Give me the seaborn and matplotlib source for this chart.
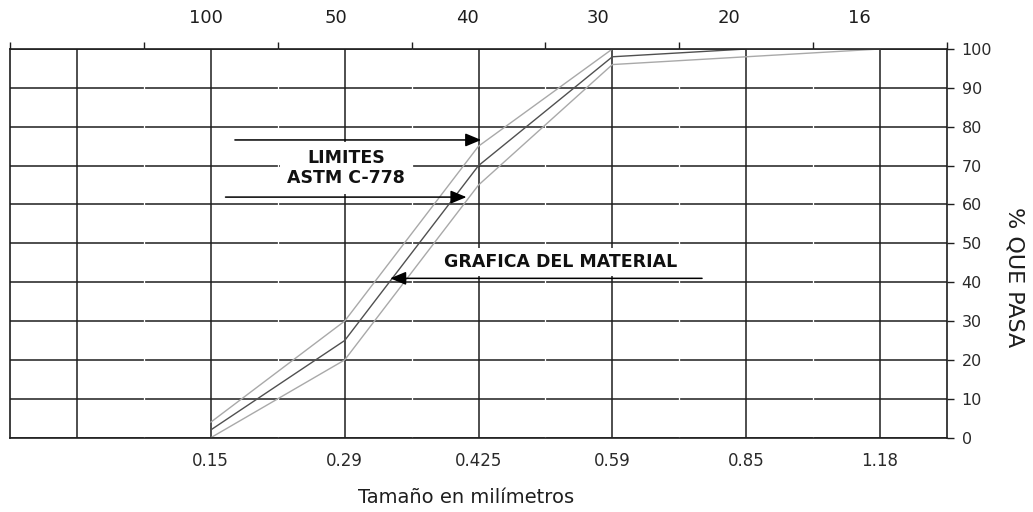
import numpy as np
import pandas as pd
import matplotlib
matplotlib.use("Agg")
import matplotlib.pyplot as plt
import matplotlib.transforms as mtransforms
import seaborn as sns

# ---- data -------------------------------------------------------------
sizes_mm = ["0.15", "0.29", "0.425", "0.59", "0.85", "1.18"]
sieve_numbers = ["100", "50", "40", "30", "20", "16"]
upper_limit = [4, 30, 75, 100, 100, 100]
lower_limit = [0, 20, 65, 96, 98, 100]
material = [2, 25, 70, 98, 100, np.nan]
y_ticks = list(range(0, 101, 10))

series_names = ["Límite superior", "Límite inferior", "Material"]
series_values = [upper_limit, lower_limit, material]

# ---- style ------------------------------------------------------------
sns.set_theme(style="white")
plt.rcParams["font.family"] = ["DejaVu Sans"]

pos = np.arange(len(sizes_mm))
df = pd.concat(
    [pd.DataFrame({"pos": pos, "pasa": vals, "serie": name})
     for name, vals in zip(series_names, series_values)],
    ignore_index=True,
)

fig = plt.figure(figsize=(10.33, 5.12), dpi=100)
ax = fig.add_axes([0.00968, 0.1451, 0.9071, 0.7592])

palette = {"Límite superior": "#a9a9a9", "Límite inferior": "#a9a9a9",
           "Material": "#505050"}
sns.lineplot(data=df, x="pos", y="pasa", hue="serie", palette=palette,
             sort=False, legend=False, errorbar=None, ax=ax,
             linewidth=1.0, zorder=2)

ax.set_xlim(-1.5, 5.5)
ax.set_ylim(0, 100)

# grid
ax.set_axisbelow(True)
ax.set_xticks(np.arange(-1, len(sizes_mm)))
ax.set_xticklabels([""] + sizes_mm)
ax.set_xticks(np.arange(-1.5, len(sizes_mm)), minor=True)
ax.set_yticks(y_ticks)
ax.yaxis.tick_right()
ax.grid(True, which="major", color="#1e1e1e", linewidth=1.1)

# small white gaps in horizontal grid lines
for m in np.arange(-0.5, len(sizes_mm) - 1, 1.0):
    ax.axvline(m, color="white", linewidth=0.9, zorder=1)

ax.tick_params(axis="x", which="major", bottom=False, top=False, length=0,
               pad=10.5, labelsize=12, labelcolor="#2a2a2a")
ax.tick_params(axis="x", which="minor", bottom=False, top=True, length=5,
               width=1.0, direction="out", color="#1e1e1e")
ax.tick_params(axis="y", which="major", right=True, left=False, length=5,
               width=1.0, direction="out", color="#1e1e1e", pad=5.5,
               labelsize=11.5, labelcolor="#2a2a2a")

for sp in ax.spines.values():
    sp.set_visible(True)
    sp.set_color("#1e1e1e")
    sp.set_linewidth(1.2)

# top sieve numbers
trans = mtransforms.blended_transform_factory(ax.transData, ax.transAxes)
for i, lab in enumerate(sieve_numbers):
    ax.text(-0.04 + 0.977 * i, 1.08, lab, transform=trans, ha="center",
            va="center", fontsize=13, color="#1e1e1e")

# axis labels
ax.set_xlabel("Tamaño en milímetros", fontsize=14, color="#1e1e1e")
ax.xaxis.set_label_coords(0.487, -0.155)
ax.xaxis.label.set_verticalalignment("center")
ax.set_ylabel("")
fig.text(1015 / 1033, 1 - 277 / 512, "% QUE PASA", rotation=-90,
         ha="center", va="center", fontsize=16, color="#1e1e1e")

# annotations
arrow_kw = dict(arrowstyle="-|>,head_length=0.6,head_width=0.25",
                color="black", lw=1.1, shrinkA=0, shrinkB=0,
                mutation_scale=16)
ax.annotate("", xy=(2.02, 76.6), xytext=(0.18, 76.6),
            arrowprops=arrow_kw, zorder=4)
ax.annotate("", xy=(1.91, 61.9), xytext=(0.11, 61.9),
            arrowprops=arrow_kw, zorder=4)
ax.annotate("", xy=(1.34, 41.0), xytext=(3.67, 41.0),
            arrowprops=arrow_kw, zorder=4)

ax.text(1.01, 69.5, "LIMITES\nASTM C-778", ha="center", va="center",
        fontsize=12.5, fontweight="bold", color="#111111",
        linespacing=1.15, zorder=3,
        bbox=dict(facecolor="white", edgecolor="none",
                  boxstyle="square,pad=0.4"))
ax.text(2.61, 45.2, "GRAFICA DEL MATERIAL", ha="center", va="center",
        fontsize=12.5, fontweight="bold", color="#111111", zorder=3,
        bbox=dict(facecolor="white", edgecolor="none",
                  boxstyle="square,pad=0.3"))

fig.savefig("out.png", dpi=100)
